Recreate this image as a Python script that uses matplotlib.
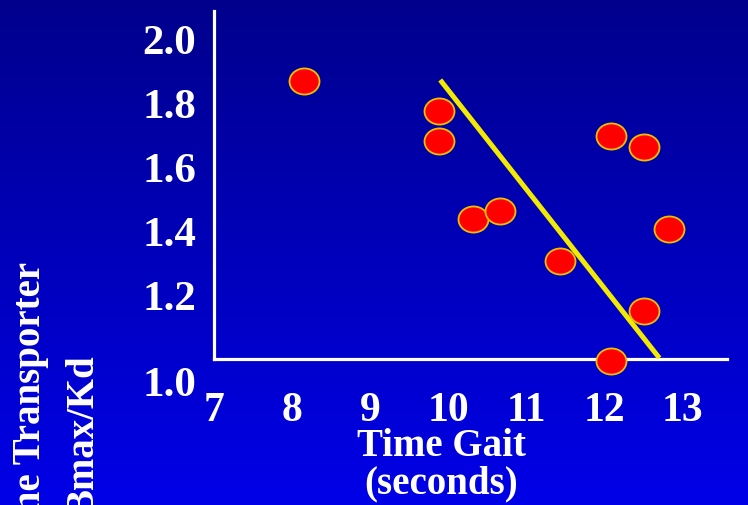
import numpy as np
import matplotlib.pyplot as plt
from matplotlib.path import Path
from matplotlib.markers import MarkerStyle
import matplotlib.transforms as mtransforms

# data
gait_time = [8.15, 9.88, 9.88, 10.32, 10.67, 11.43, 12.09, 12.51, 12.83, 12.51, 12.09]
bmax_kd = [1.869, 1.775, 1.681, 1.4375, 1.4625, 1.307, 1.697, 1.6625, 1.406, 1.15, 0.994]
fit_x = [9.90, 12.71]
fit_y = [1.872, 1.003]
x_ticks = [7, 8, 9, 10, 11, 12, 13]
y_ticks = [1.0, 1.2, 1.4, 1.6, 1.8, 2.0]
y_ticklabels = ["1.0", "1.2", "1.4", "1.6", "1.8", "2.0"]

plt.rcParams['font.family'] = ['Liberation Serif', 'DejaVu Serif']
plt.rcParams['font.weight'] = 'bold'

W, H = 748, 506
fig = plt.figure(figsize=(W / 100, H / 100), dpi=100)

# blue gradient background
bg = fig.add_axes([0, 0, 1, 1], zorder=-10)
grad = np.linspace(0, 1, 256).reshape(-1, 1)
top = np.array([0.0, 0.0, 0.55])
bot = np.array([0.0, 0.0, 0.91])
img = top + (bot - top) * grad[..., None]
bg.imshow(img, aspect='auto', extent=[0, 1, 0, 1], origin='upper')
bg.axis('off')

ax = fig.add_axes([214 / W, 1 - 360 / H, (727 - 214) / W, (360 - 12) / H])
ax.patch.set_alpha(0)
ax.set_xlim(7.0, 7.0 + 513 / 78)
ax.set_ylim(1.0, 1.0 + 348 / 320)

for side in ['top', 'right']:
    ax.spines[side].set_visible(False)
for side in ['left', 'bottom']:
    ax.spines[side].set_color('white')
    ax.spines[side].set_linewidth(2.3)

# ellipse marker, a bit wider than tall
circ = Path.unit_circle()
ell = Path(circ.vertices * np.array([1.0, 0.87]), circ.codes)
ax.plot(gait_time, bmax_kd, linestyle='none', marker=MarkerStyle(ell), markersize=21.6,
        markerfacecolor='#ff0000', markeredgecolor='#e8c000', markeredgewidth=1.3,
        clip_on=False, zorder=4)
ax.plot(fit_x, fit_y, color='#f2ea00', lw=3.6, solid_capstyle='butt', clip_on=False, zorder=3)

ax.set_xticks(x_ticks)
ax.set_xticklabels([str(t) for t in x_ticks])
ax.set_yticks(y_ticks)
ax.set_yticklabels(y_ticklabels)
ax.tick_params(length=0, labelcolor='white')
ax.tick_params(axis='x', pad=23, labelsize=30)
ax.tick_params(axis='y', pad=13, labelsize=31)
for lab in ax.get_xticklabels() + ax.get_yticklabels():
    lab.set_fontweight('bold')

# the "1.0" label sits lower on the slide
shift = mtransforms.ScaledTranslation(0, -22 / 100, fig.dpi_scale_trans)
lab0 = ax.get_yticklabels()[0]
lab0.set_transform(lab0.get_transform() + shift)

fig.text(441 / W, 1 - 428 / H, "Time Gait\n(seconds)", color='white', fontsize=28,
         fontweight='bold', ha='center', va='top', linespacing=1.0)

# y label: the slide crops it at the bottom edge
fig.text(31 / W, 1 - 262 / H, "Dopamine Transporter", color='white', fontsize=28,
         fontweight='bold', rotation=90, ha='center', va='top')
fig.text(84 / W, 1 - 355 / H, "Bmax/Kd", color='white', fontsize=28,
         fontweight='bold', rotation=90, ha='center', va='top')

fig.savefig('out.png', dpi=100)
